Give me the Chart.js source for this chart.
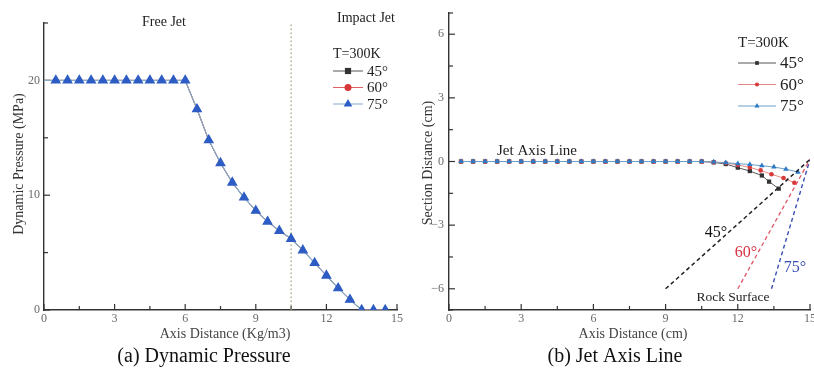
<!DOCTYPE html>
<html>
<head>
<meta charset="utf-8">
<script src="https://cdn.jsdelivr.net/npm/chart.js@4.4.1/dist/chart.umd.min.js"></script>
<style>
  html, body { margin: 0; padding: 0; background: #fff; }
  #wrap { position: relative; width: 814px; height: 370px; overflow: hidden; }
  .box { position: absolute; top: 0; width: 407px; height: 370px; }
</style>
</head>
<body>
<div id="wrap">
  <div class="box" style="left:0"><canvas id="pressure" width="407" height="370"></canvas></div>
  <div class="box" style="left:407px"><canvas id="axisline" width="407" height="370"></canvas></div>
</div>
<script>
// (a) dynamic pressure along the axis, same curve for all three angles
const distA = [0, 0.5, 1, 1.5, 2, 2.5, 3, 3.5, 4, 4.5, 5, 5.5, 6, 6.5, 7, 7.5, 8, 8.5, 9, 9.5, 10, 10.5, 11, 11.5, 12, 12.5, 13, 13.5, 14, 14.5];
const press45 = [20, 20, 20, 20, 20, 20, 20, 20, 20, 20, 20, 20, 20, 17.5, 14.8, 12.8, 11.1, 9.8, 8.65, 7.7, 6.9, 6.2, 5.2, 4.1, 3.0, 1.9, 0.9, 0, 0, 0];
const press60 = [20, 20, 20, 20, 20, 20, 20, 20, 20, 20, 20, 20, 20, 17.5, 14.8, 12.8, 11.1, 9.8, 8.65, 7.7, 6.9, 6.2, 5.2, 4.1, 3.0, 1.9, 0.9, 0, 0, 0];
const press75 = [20, 20, 20, 20, 20, 20, 20, 20, 20, 20, 20, 20, 20, 17.5, 14.8, 12.8, 11.1, 9.8, 8.65, 7.7, 6.9, 6.2, 5.2, 4.1, 3.0, 1.9, 0.9, 0, 0, 0];
const impactX = [10.5, 10.5];
const impactY = [0, 25];

// (b) jet axis line
const distB45 = [0.5, 1, 1.5, 2, 2.5, 3, 3.5, 4, 4.5, 5, 5.5, 6, 6.5, 7, 7.5, 8, 8.5, 9, 9.5, 10, 10.5, 11, 11.5, 12, 12.5, 13, 13.3, 13.7];
const sect45  = [0, 0, 0, 0, 0, 0, 0, 0, 0, 0, 0, 0, 0, 0, 0, 0, 0, 0, 0, 0, 0, -0.04, -0.12, -0.29, -0.45, -0.66, -0.95, -1.28];
const distB60 = [0.5, 1, 1.5, 2, 2.5, 3, 3.5, 4, 4.5, 5, 5.5, 6, 6.5, 7, 7.5, 8, 8.5, 9, 9.5, 10, 10.5, 11, 11.5, 12, 12.5, 12.95, 13.4, 13.9, 14.35];
const sect60  = [0, 0, 0, 0, 0, 0, 0, 0, 0, 0, 0, 0, 0, 0, 0, 0, 0, 0, 0, 0, 0, -0.03, -0.07, -0.16, -0.28, -0.42, -0.6, -0.78, -1.0];
const distB75 = [0.5, 1, 1.5, 2, 2.5, 3, 3.5, 4, 4.5, 5, 5.5, 6, 6.5, 7, 7.5, 8, 8.5, 9, 9.5, 10, 10.5, 11, 11.5, 12, 12.5, 13, 13.5, 14, 14.5];
const sect75  = [0, 0, 0, 0, 0, 0, 0, 0, 0, 0, 0, 0, 0, 0, 0, 0, 0, 0, 0, 0, 0, -0.02, -0.06, -0.1, -0.14, -0.2, -0.26, -0.36, -0.5];

// rock surfaces
const rockX45 = [9, 15],   rockY45 = [-6, 0.1];
const rockX60 = [12, 15],  rockY60 = [-6, 0.1];
const rockX75 = [13.4, 15], rockY75 = [-6, 0.1];

// ticks
const ticksX = [0, 1.5, 3, 4.5, 6, 7.5, 9, 10.5, 12, 13.5, 15];
const labelsX = [0, 3, 6, 9, 12, 15];
const ticksYA = [0, 5, 10, 15, 20, 25];
const labelsYA = [0, 10, 20];
const ticksYB = [-7, -6, -4.5, -3, -1.5, 0, 1.5, 3, 4.5, 6, 7];
const labelsYB = [-6, -3, 0, 3, 6];

const SERIF = '"Liberation Serif", "DejaVu Serif", serif';

const pts = (xs, ys) => xs.map((x, i) => ({ x: x, y: ys[i] }));

function axis(min, max, ticks, labels, horiz, size, pad) {
  return {
    type: 'linear', min: min, max: max,
    afterBuildTicks: s => { s.ticks = ticks.map(v => ({ value: v })); },
    afterFit: s => {
      if (horiz) s.height = size; else s.width = size;
      s.paddingLeft = 0; s.paddingRight = 0; s.paddingTop = 0; s.paddingBottom = 0;
    },
    grid: { display: true, drawOnChartArea: false, drawTicks: false },
    border: { display: true, color: '#333', width: 1.4 },
    ticks: {
      autoSkip: false, maxRotation: 0, padding: pad, color: '#6a6a6a',
      font: { family: SERIF, size: 12 },
      callback: v => labels.includes(v) ? String(v).replace('-', '\u2212') : ''
    }
  };
}

// inward tick marks, long for labelled ticks
const tickMarks = {
  id: 'tickMarks',
  beforeDatasetsDraw(chart) {
    const ctx = chart.ctx, a = chart.chartArea;
    ctx.save();
    ctx.strokeStyle = '#333';
    ctx.lineWidth = 1.2;
    ['x', 'y'].forEach(id => {
      const sc = chart.scales[id];
      sc.ticks.forEach(t => {
        const len = t.label !== '' ? 6 : 4;
        const p = sc.getPixelForValue(t.value);
        ctx.beginPath();
        if (id === 'x') { ctx.moveTo(p, a.bottom); ctx.lineTo(p, a.bottom - len); }
        else { ctx.moveTo(a.left, p); ctx.lineTo(a.left + len, p); }
        ctx.stroke();
      });
    });
    ctx.restore();
  }
};

function textLayer(items) {
  return {
    id: 'texts',
    afterDraw(chart) {
      const ctx = chart.ctx;
      items.forEach(t => {
        ctx.save();
        ctx.font = t.font;
        ctx.fillStyle = t.color || '#222';
        ctx.textAlign = t.align || 'center';
        ctx.textBaseline = t.base || 'alphabetic';
        ctx.translate(t.x, t.y);
        if (t.rot) ctx.rotate(t.rot);
        ctx.fillText(t.text, 0, 0);
        ctx.restore();
      });
    }
  };
}

function marker(ctx, style, x, y, r, color) {
  ctx.fillStyle = color;
  ctx.beginPath();
  if (style === 'rect') {
    const s = r * 0.62;
    ctx.rect(x - s, y - s, 2 * s, 2 * s);
  } else if (style === 'triangle') {
    ctx.moveTo(x, y - r);
    ctx.lineTo(x + r * 0.866, y + r * 0.5);
    ctx.lineTo(x - r * 0.866, y + r * 0.5);
    ctx.closePath();
  } else {
    ctx.arc(x, y, r * 0.7, 0, Math.PI * 2);
  }
  ctx.fill();
}

function legendLayer(cfg) {
  return {
    id: 'legendBox',
    afterDraw(chart) {
      const ctx = chart.ctx;
      ctx.save();
      ctx.fillStyle = '#222';
      ctx.font = cfg.titleFont;
      ctx.textAlign = 'left';
      ctx.textBaseline = 'middle';
      ctx.fillText('T=300K', cfg.x, cfg.titleY);
      cfg.idx.forEach((di, k) => {
        const ds = chart.data.datasets[di];
        const y = cfg.y0 + k * cfg.step;
        ctx.strokeStyle = ds.borderColor;
        ctx.lineWidth = 1;
        ctx.beginPath();
        ctx.moveTo(cfg.x, y);
        ctx.lineTo(cfg.x + cfg.len, y);
        ctx.stroke();
        marker(ctx, ds.pointStyle, cfg.x + cfg.len / 2, y, cfg.r, ds.pointBackgroundColor);
        ctx.fillStyle = '#222';
        ctx.font = cfg.font;
        ctx.fillText(ds.label, cfg.x + cfg.len + 4, y + 1);
      });
      ctx.restore();
    }
  };
}

// ---------- (a) Dynamic Pressure ----------
new Chart(document.getElementById('pressure'), {
  type: 'scatter',
  data: {
    datasets: [
      { label: '75\u00b0', data: pts(distA, press75), showLine: true, borderColor: '#86aac8', borderWidth: 1.2,
        pointStyle: 'triangle', pointBackgroundColor: '#2d5cc4', pointBorderColor: '#2d5cc4', pointBorderWidth: 1.2,
        pointRadius: c => c.dataIndex === 0 ? 0 : 5, order: 1 },
      { label: '60\u00b0', data: pts(distA, press60), showLine: true, borderColor: '#e06060', borderWidth: 1,
        pointStyle: 'circle', pointBackgroundColor: '#d63838', pointBorderColor: '#d63838', pointBorderWidth: 0,
        pointRadius: c => c.dataIndex === 0 ? 0 : 2.4, order: 2 },
      { label: '45\u00b0', data: pts(distA, press45), showLine: true, borderColor: '#555', borderWidth: 1,
        pointStyle: 'rect', pointBackgroundColor: '#333', pointBorderColor: '#333', pointBorderWidth: 0,
        pointRadius: c => c.dataIndex === 0 ? 0 : 3, order: 3 },
      { label: 'impact', data: pts(impactX, impactY), showLine: true, borderColor: '#a09e70', borderWidth: 1.2,
        borderDash: [1.5, 2.5], pointRadius: 0, order: 4 }
    ]
  },
  options: {
    responsive: false, animation: false,
    layout: { padding: { left: 0, right: 10, top: 23, bottom: 0 } },
    plugins: { legend: { display: false }, tooltip: { enabled: false } },
    scales: {
      x: axis(0, 15, ticksX, labelsX, true, 60, 2),
      y: axis(0, 25, ticksYA, labelsYA, false, 44, 4)
    }
  },
  plugins: [tickMarks,
    legendLayer({ x: 333, titleY: 54, y0: 71, step: 16.5, len: 30, r: 5,
      titleFont: '14px ' + SERIF, font: '15px ' + SERIF, idx: [2, 1, 0] }),
    textLayer([
      { text: 'Free Jet', x: 164, y: 26, font: '14px ' + SERIF },
      { text: 'Impact Jet', x: 366, y: 22, font: '14px ' + SERIF },
      { text: 'Dynamic Pressure (MPa)', x: 19, y: 164, rot: -Math.PI / 2, base: 'middle', font: '14px ' + SERIF, color: '#333' },
      { text: 'Axis Distance (Kg/m3)', x: 225, y: 338, font: '14px ' + SERIF, color: '#444' },
      { text: '(a) Dynamic Pressure', x: 204, y: 362, font: '20px ' + SERIF, color: '#111' }
    ])]
});

// ---------- (b) Jet Axis Line ----------
new Chart(document.getElementById('axisline'), {
  type: 'scatter',
  data: {
    datasets: [
      { label: '75\u00b0', data: pts(distB75, sect75), showLine: true, borderColor: '#6ca0c8', borderWidth: 1,
        pointStyle: 'triangle', pointBackgroundColor: '#2a7ac8', pointBorderColor: '#2a7ac8', pointBorderWidth: 0,
        pointRadius: 3.2, order: 1 },
      { label: '60\u00b0', data: pts(distB60, sect60), showLine: true, borderColor: '#e88888', borderWidth: 1,
        pointStyle: 'circle', pointBackgroundColor: '#d83a3a', pointBorderColor: '#d83a3a', pointBorderWidth: 0,
        pointRadius: 2.3, order: 2 },
      { label: '45\u00b0', data: pts(distB45, sect45), showLine: true, borderColor: '#555', borderWidth: 1,
        pointStyle: 'rect', pointBackgroundColor: '#333', pointBorderColor: '#333', pointBorderWidth: 0,
        pointRadius: 3, order: 3 },
      { label: 'rock45', data: pts(rockX45, rockY45), showLine: true, borderColor: '#222', borderWidth: 1.5,
        borderDash: [4, 3], pointRadius: 0, order: 0 },
      { label: 'rock60', data: pts(rockX60, rockY60), showLine: true, borderColor: '#e05566', borderWidth: 1.3,
        borderDash: [4, 3], pointRadius: 0, order: 0 },
      { label: 'rock75', data: pts(rockX75, rockY75), showLine: true, borderColor: '#3a4fb0', borderWidth: 1.4,
        borderDash: [4, 3], pointRadius: 0, order: 0 }
    ]
  },
  options: {
    responsive: false, animation: false,
    layout: { padding: { left: 0, right: 2, top: 13, bottom: 0 } },
    plugins: { legend: { display: false }, tooltip: { enabled: false } },
    scales: {
      x: axis(0, 15, ticksX, labelsX, true, 60, 2),
      y: axis(-7, 7, ticksYB, labelsYB, false, 42, 5)
    }
  },
  plugins: [tickMarks,
    legendLayer({ x: 331, titleY: 43, y0: 63, step: 21.5, len: 38, r: 3,
      titleFont: '15px ' + SERIF, font: '17px ' + SERIF, idx: [2, 1, 0] }),
    textLayer([
      { text: 'Jet Axis Line', x: 130, y: 155, font: '15px ' + SERIF },
      { text: '45\u00b0', x: 309, y: 237, font: '16px ' + SERIF, color: '#111' },
      { text: '60\u00b0', x: 339, y: 257, font: '16px ' + SERIF, color: '#d83040' },
      { text: '75\u00b0', x: 388, y: 272, font: '16px ' + SERIF, color: '#3a4fb0' },
      { text: 'Rock Surface', x: 326, y: 301, font: '13.5px ' + SERIF },
      { text: 'Section Distance (cm)', x: 21, y: 163, rot: -Math.PI / 2, base: 'middle', font: '14px ' + SERIF, color: '#333' },
      { text: 'Axis Distance (cm)', x: 226, y: 338, font: '14px ' + SERIF, color: '#444' },
      { text: '(b) Jet Axis Line', x: 208, y: 362, font: '20px ' + SERIF, color: '#111' }
    ])]
});
</script>
</body>
</html>
